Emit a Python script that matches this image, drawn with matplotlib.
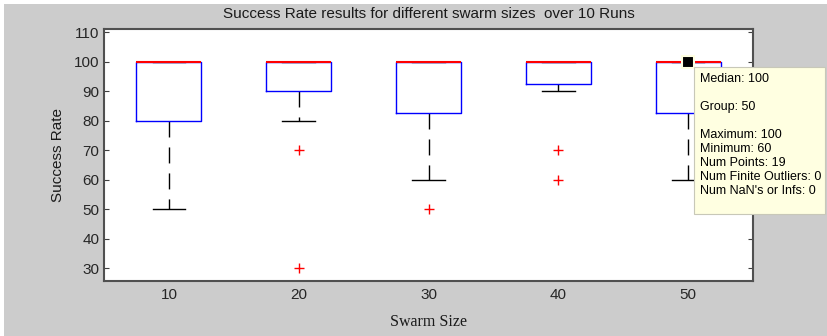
import numpy as np
import matplotlib
matplotlib.use('Agg')
import matplotlib.pyplot as plt
from matplotlib.patches import Rectangle

# data
groups = [10, 20, 30, 40, 50]
q1 = [80, 90, 82.5, 92.5, 82.5]
med = [100, 100, 100, 100, 100]
q3 = [100, 100, 100, 100, 100]
whislo = [50, 80, 60, 90, 60]
whishi = [100, 100, 100, 100, 100]
outliers = [[], [70, 30], [50], [70, 60], []]

# data tip shown on the last group
tip_lines = ['Median: 100', '', 'Group: 50', '', 'Maximum: 100', 'Minimum: 60',
             'Num Points: 19', 'Num Finite Outliers: 0', "Num NaN's or Infs: 0"]

W, H = 827, 336
fig = plt.figure(figsize=(W/100, H/100), dpi=100, facecolor='white')
fig.patches.append(Rectangle((4/W, 0), 1, 1 - 4/H, transform=fig.transFigure,
                             facecolor='#cccccc', edgecolor='none', zorder=-10))

ax = fig.add_axes([104/W, 1 - 281/H, (753-104)/W, (281-29)/H])
ax.set_facecolor('white')

stats = []
for i in range(len(groups)):
    stats.append(dict(med=med[i], q1=q1[i], q3=q3[i], whislo=whislo[i],
                      whishi=whishi[i], fliers=outliers[i]))

pos = np.arange(1, len(groups) + 1)
bp = ax.bxp(stats, positions=pos, widths=0.5, capwidths=0.25,
            boxprops=dict(color='#0000ff', lw=1),
            medianprops=dict(color='#ff0000', lw=1.5),
            whiskerprops=dict(color='black', lw=1, linestyle=(0, (11.5, 7.2))),
            capprops=dict(color='black', lw=1),
            flierprops=dict(marker='+', markeredgecolor='#ff0000', markersize=7, mew=1))
for b in bp['boxes']:
    b.set_zorder(3)
for c in bp['caps'] + bp['whiskers']:
    c.set_zorder(2)
for m in bp['medians']:
    m.set_zorder(6)

ax.set_xlim(0.5, 5.5)
ax.set_ylim(25.7, 111.1)
ax.set_yticks(range(30, 111, 10))
ax.set_xticks(pos)
ax.set_xticklabels([str(g) for g in groups])

font = 'Liberation Sans'
ax.tick_params(axis='y', direction='in', length=3.5, left=True, right=True,
               color='#404040', labelsize=11, pad=3.5, labelcolor='#262626')
ax.tick_params(axis='x', length=0, labelsize=11, pad=5, labelcolor='#262626')
for lab in ax.get_xticklabels() + ax.get_yticklabels():
    lab.set_fontfamily(font)
for s in ax.spines.values():
    s.set_color('#505050')
    s.set_linewidth(1.5)

ax.set_title('Success Rate results for different swarm sizes  over 10 Runs',
             fontsize=11, family=font, pad=7.7, color='#1a1a1a')
ax.set_ylabel('Success Rate', fontsize=11, family=font, color='#1a1a1a')
ax.yaxis.set_label_coords(-0.06, 0.5)
ax.set_xlabel('Swarm Size', fontsize=11.5, family='Liberation Serif', color='#1a1a1a')
ax.xaxis.set_label_coords(0.5, -0.131)

# data tip
ax.plot(5, 100, 's', color='black', mec='#ffffe1', ms=9, mew=1.5, zorder=10, clip_on=False)
fig.patches.append(Rectangle((694/W, 1 - 214/H), (825-694)/W, (214-66.7)/H,
                             transform=fig.transFigure, facecolor='#ffffe1',
                             edgecolor='#c8c8b8', lw=0.8, zorder=20))
fig.text(700/W, 1 - 73/H, '\n'.join(tip_lines), fontsize=9, family=font,
         va='top', ha='left', linespacing=1.22, color='black', zorder=21)

fig.savefig('out.png', dpi=100, facecolor=fig.get_facecolor())
